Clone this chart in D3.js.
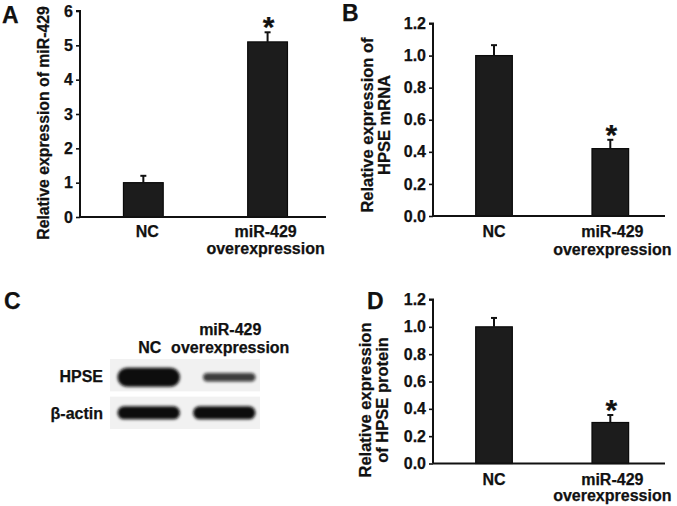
<!DOCTYPE html>
<html>
<head>
<meta charset="utf-8">
<script src="https://cdn.jsdelivr.net/npm/d3@7"></script>
<style>
  html, body { margin: 0; padding: 0; background: #fff; }
  svg { display: block; }
  text { font-family: "Liberation Sans", Arial, Helvetica, sans-serif; font-weight: bold; fill: #111; stroke: #111; stroke-width: 0.25px; }
</style>
</head>
<body>
<svg id="chart" width="677" height="506"></svg>
<script>
// ---------------- data ----------------
const categories = ["NC", "miR-429 overexpression"];
const categoryLines = [["NC"], ["miR-429", "overexpression"]];

// Panel A: relative expression of miR-429
const valuesA = [1.0, 5.1];
const errorsA = [0.2, 0.28];
const significantA = [false, true];
const ticksA = [0, 1, 2, 3, 4, 5, 6];

// Panel B: relative expression of HPSE mRNA
const valuesB = [1.0, 0.42];
const errorsB = [0.065, 0.055];
const significantB = [false, true];
const ticksB = [0, 0.2, 0.4, 0.6, 0.8, 1.0, 1.2];

// Panel D: relative expression of HPSE protein
const valuesD = [1.0, 0.30];
const errorsD = [0.065, 0.055];
const significantD = [false, true];
const ticksD = [0, 0.2, 0.4, 0.6, 0.8, 1.0, 1.2];

// Panel C: western blot (relative band intensities)
const blotLanes = ["NC", "miR-429 overexpression"];
const blotRows = ["HPSE", "β-actin"];
const bandHPSE = [1.0, 0.3];
const bandActin = [1.0, 1.0];

// ---------------- drawing ----------------
const svg = d3.select("#chart");
const defs = svg.append("defs");
defs.append("filter").attr("id", "blur").attr("x", "-20%").attr("y", "-80%").attr("width", "140%").attr("height", "260%")
  .append("feGaussianBlur").attr("stdDeviation", 1.5);

function barPanel(cfg) {
  const g = svg.append("g");
  const x = d3.scaleBand().domain(categories)
    .range([cfg.x0, cfg.x1]).paddingInner(cfg.padIn).paddingOuter(cfg.padOut).align(cfg.align);
  const y = d3.scaleLinear().domain([0, d3.max(cfg.ticks)]).range([cfg.y0, cfg.y1]);

  // bars
  g.selectAll("rect.bar").data(cfg.values).join("rect")
    .attr("class", "bar")
    .attr("x", (d, i) => x(categories[i]))
    .attr("width", x.bandwidth())
    .attr("y", d => y(d))
    .attr("height", d => y(0) - y(d))
    .attr("fill", "#1c1c1c")
    .attr("stroke", "#0a0a0a")
    .attr("stroke-width", 1.2);

  // error bars
  const cx = i => x(categories[i]) + x.bandwidth() / 2;
  g.selectAll("line.err").data(cfg.values).join("line")
    .attr("x1", (d, i) => cx(i)).attr("x2", (d, i) => cx(i))
    .attr("y1", d => y(d)).attr("y2", (d, i) => y(d + cfg.errors[i]))
    .attr("stroke", "#111").attr("stroke-width", 2);
  g.selectAll("line.cap").data(cfg.values).join("line")
    .attr("x1", (d, i) => cx(i) - 3).attr("x2", (d, i) => cx(i) + 3)
    .attr("y1", (d, i) => y(d + cfg.errors[i])).attr("y2", (d, i) => y(d + cfg.errors[i]))
    .attr("stroke", "#111").attr("stroke-width", 2);

  // asterisks
  g.selectAll("text.star").data(cfg.values.map((d, i) => ({ d, i })).filter(o => cfg.sig[o.i])).join("text")
    .attr("x", o => cx(o.i) + 1)
    .attr("y", o => y(o.d + cfg.errors[o.i]) + 5)
    .attr("text-anchor", "middle")
    .attr("font-size", 30)
    .text("*");

  // y axis
  const yAxis = d3.axisLeft(y).tickValues(cfg.ticks).tickSize(4).tickPadding(3)
    .tickFormat(cfg.fmt);
  const ya = g.append("g").attr("transform", `translate(${cfg.x0},0)`).call(yAxis);
  ya.select(".domain").attr("stroke", "#111").attr("stroke-width", 2)
    .attr("d", `M-4,${cfg.y1}H0V${cfg.y0}`);
  ya.selectAll(".tick line").attr("stroke", "#111").attr("stroke-width", 1.6);
  ya.selectAll(".tick text").attr("font-size", 16).attr("font-family", "Liberation Sans, Arial, sans-serif")
    .attr("font-weight", "bold").attr("fill", "#111");

  // x axis
  const xAxis = d3.axisBottom(x).tickSize(0).tickFormat("");
  const xa = g.append("g").attr("transform", `translate(0,${cfg.y0})`).call(xAxis);
  xa.select(".domain").attr("stroke", "#111").attr("stroke-width", 2)
    .attr("d", `M${cfg.x0},0H${cfg.x1}`);

  // x labels
  categories.forEach((c, i) => {
    const t = g.append("text")
      .attr("x", cx(i) + cfg.labelDx[i])
      .attr("y", cfg.y0 + cfg.labelDy)
      .attr("text-anchor", "middle")
      .attr("font-size", cfg.labelSize);
    categoryLines[i].forEach((ln, k) => {
      t.append("tspan").attr("x", cx(i) + cfg.labelDx[i]).attr("dy", k === 0 ? 0 : cfg.lineGap).text(ln);
    });
  });

  // y label
  const yl = g.append("text")
    .attr("transform", `translate(${cfg.ylx},${cfg.yly}) rotate(-90)`)
    .attr("text-anchor", "middle")
    .attr("font-size", cfg.ylSize);
  cfg.ylabel.forEach((ln, k) => {
    yl.append("tspan").attr("x", 0).attr("dy", k === 0 ? 0 : cfg.ylGap).text(ln);
  });

  // panel letter
  g.append("text").attr("x", cfg.letterX).attr("y", cfg.letterY)
    .attr("font-size", 23).text(cfg.letter);
}

barPanel({
  letter: "A", letterX: 2, letterY: 23,
  values: valuesA, errors: errorsA, sig: significantA, ticks: ticksA, fmt: d3.format("d"),
  x0: 80, x1: 326, y0: 217, y1: 11, padIn: 0.68, padOut: 0.33, align: 0.53,
  labelDx: [4, -2], labelDy: 20, lineGap: 16.5, labelSize: 16,
  ylabel: ["Relative expression of miR-429"], ylx: 49, yly: 123, ylSize: 15.8, ylGap: 16
});

barPanel({
  letter: "B", letterX: 342, letterY: 21,
  values: valuesB, errors: errorsB, sig: significantB, ticks: ticksB, fmt: d3.format(".1f"),
  x0: 433, x1: 665, y0: 216, y1: 23.5, padIn: 0.685, padOut: 0.34, align: 0.54,
  labelDx: [0, 2], labelDy: 21, lineGap: 17.5, labelSize: 16,
  ylabel: ["Relative expression of", "HPSE mRNA"], ylx: 373, yly: 125, ylSize: 16.5, ylGap: 17
});

barPanel({
  letter: "D", letterX: 367, letterY: 309,
  values: valuesD, errors: errorsD, sig: significantD, ticks: ticksD, fmt: d3.format(".1f"),
  x0: 433, x1: 665, y0: 463.5, y1: 299.5, padIn: 0.685, padOut: 0.34, align: 0.54,
  labelDx: [0, 2], labelDy: 21, lineGap: 16.5, labelSize: 16,
  ylabel: ["Relative expression", "of HPSE protein"], ylx: 371, yly: 400, ylSize: 16.5, ylGap: 17
});

// ---------------- Panel C: western blot ----------------
(function blot() {
  const g = svg.append("g");
  g.append("text").attr("x", 4).attr("y", 309).attr("font-size", 23).text("C");

  const lane = d3.scaleBand().domain(blotLanes).range([114, 259]).paddingInner(0.12).paddingOuter(0.02);
  const row = d3.scaleBand().domain(blotRows).range([359, 429]).paddingInner(0.14);

  // membrane strips
  g.selectAll("rect.strip").data(blotRows).join("rect")
    .attr("x", 110).attr("width", 150)
    .attr("y", r => row(r)).attr("height", row.bandwidth())
    .attr("fill", "#f1f1f1");

  const rowsData = [bandHPSE, bandActin];
  const baseH = [4, 7];
  const scaleH = [15, 6];
  blotRows.forEach((r, ri) => {
    const cy = row(r) + row.bandwidth() / 2 + (ri === 0 ? 2 : 0);
    rowsData[ri].forEach((v, li) => {
      const h = baseH[ri] + scaleH[ri] * v;
      const x0 = lane(blotLanes[li]) + (ri === 0 && li === 1 ? 10 : 0);
      const w = lane.bandwidth() - (ri === 0 && li === 1 ? 10 : 0);
      g.append("rect")
        .attr("x", x0 + 2).attr("width", w - 4)
        .attr("y", cy - h / 2).attr("height", h)
        .attr("rx", h / 2).attr("ry", h / 2)
        .attr("fill", "#0b0b0b")
        .attr("opacity", 0.7 + 0.3 * v)
        .attr("filter", "url(#blur)");
    });
  });

  // row labels
  g.selectAll("text.row").data(blotRows).join("text")
    .attr("x", 103).attr("y", (r, i) => row(r) + row.bandwidth() / 2 + (i === 0 ? 7 : 6))
    .attr("text-anchor", "end").attr("font-size", 16).text(r => r);

  // lane labels
  const laneLines = [["NC"], ["miR-429", "overexpression"]];
  const laneDx = [1, 6];
  laneLines.forEach((lines, li) => {
    const cxl = lane(blotLanes[li]) + lane.bandwidth() / 2 + laneDx[li];
    lines.forEach((ln, k) => {
      g.append("text").attr("x", cxl).attr("y", 353 - (lines.length - 1 - k) * 18)
        .attr("text-anchor", "middle").attr("font-size", 16).text(ln);
    });
  });
})();
</script>
</body>
</html>
